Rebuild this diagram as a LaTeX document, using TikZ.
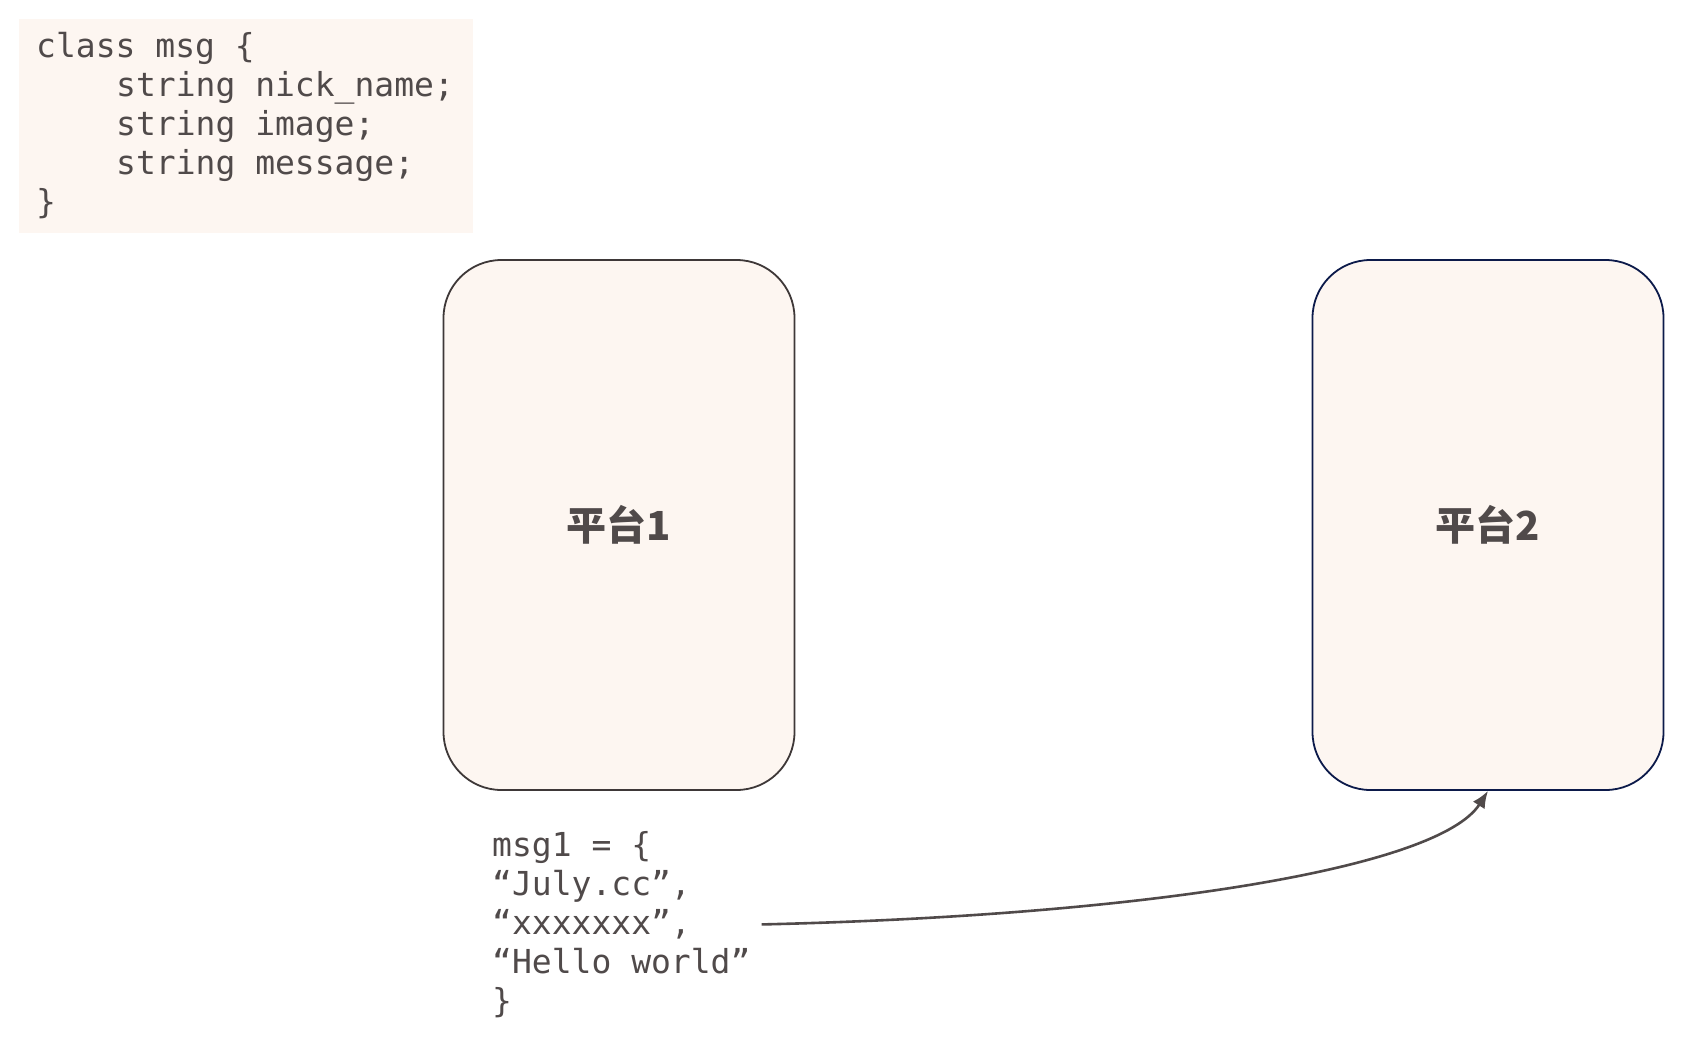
\documentclass[tikz,border=0pt]{standalone}
\usepackage{fontspec}
\setmonofont{DejaVu Sans Mono}
\newfontfamily\cjk{Noto Sans CJK SC}
\usetikzlibrary{arrows.meta, positioning}
\definecolor{ink}{HTML}{504A4A}
\definecolor{paper}{HTML}{FDF6F1}
\definecolor{pedge}{HTML}{3E3838}
\definecolor{pnavy}{HTML}{0C1A4A}
\newcommand\ind{\hspace*{80pt}}
\tikzset{
  >=Latex,
  code/.style={
    text=ink, align=left, inner sep=0pt,
    font=\ttfamily\fontsize{33}{39}\selectfont
  },
  platform/.style={
    draw=#1, fill=paper, line width=1.8pt, rounded corners=58pt,
    minimum width=351pt, minimum height=530pt, text=ink,
    font=\cjk\bfseries\fontsize{40}{40}\selectfont
  },
  platform/.default=pedge,
  sendarr/.style={line width=2.6pt, draw=ink,
    -{Latex[length=17pt, width=14pt]}}
}
\begin{document}
\begin{tikzpicture}[x=1pt, y=-1pt]
  \useasboundingbox[fill=white] (0,0) rectangle (1681,1039);
  % class definition
  \node[fill=paper, anchor=north west, inner sep=0pt,
        minimum width=454pt, minimum height=214pt] (clsbg) at (19,19) {};
  \node[code, anchor=west] (cls) at ([xshift=17pt, yshift=1pt]clsbg.west)
    {class msg \{\\
     \ind string nick\_name;\\
     \ind string image;\\
     \ind string message;\\
     \}};
  % two platforms
  \node[platform] (p1) at (619,525) {平台1};
  \node[platform=pnavy] (p2) at (1488,525) {平台2};
  % message instance
  \node[code, anchor=north west, inner xsep=11pt] (val) at (481,831)
    {msg1 = \{\\
     “July.cc”,\\
     “xxxxxxx”,\\
     “Hello world”\\
     \}};
  \draw[sendarr] (val.east) .. controls +(386,-9) and +(-49,77) .. (p2.south);
\end{tikzpicture}
\end{document}
